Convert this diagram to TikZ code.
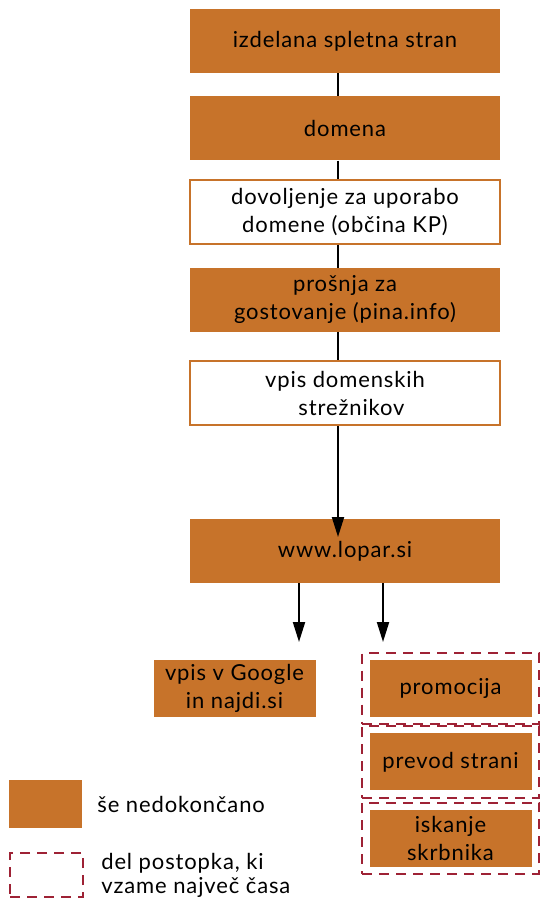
\documentclass[tikz,border=0pt]{standalone}
\usepackage{fontspec}
\setmainfont{Lato}[LetterSpace=4]
\usetikzlibrary{positioning,fit}
\usetikzlibrary{arrows.meta}
\definecolor{rjava}{HTML}{C7732A}
\definecolor{bordo}{HTML}{9E2235}

\begin{document}
\begin{tikzpicture}[
	x=1pt,y=-1pt,
	korak/.style={
		rectangle,
		fill=rjava,
		text=black,
		inner sep=0pt,
		align=center,
		minimum width=310pt,
		minimum height=64pt,
		font=\fontsize{22}{28}\selectfont},
	korakbel/.style={korak,fill=white,draw=rjava,line width=2pt},
	manjsi/.style={korak,minimum width=162pt,minimum height=57pt},
	okvir/.style={
		draw=bordo,
		line width=2.2pt,
		dash pattern=on 10pt off 7pt,
		inner sep=7pt},
	opis/.style={anchor=west,align=left,inner sep=0pt,font=\fontsize{22}{24}\selectfont},
	povezava/.style={line width=2pt},
	puscica/.style={povezava,-{Triangle[width=12pt,length=20pt]}},
	node distance=23pt
	]
	\useasboundingbox (0,0) rectangle (539,899);

	% glavni stolpec
	\node[korak] (spletna) at (345,41) {izdelana spletna stran};
	\node[korak,below=of spletna] (domena) {domena};
	\node[korakbel,below=18pt of domena] (dovoljenje) {dovoljenje za uporabo\\domene (občina KP)};
	\node[korak,below=23pt of dovoljenje] (prosnja) {prošnja za\\gostovanje (pina.info)};
	\node[korakbel,below=28pt of prosnja] (vpis) {vpis domenskih\\\ \ strežnikov};
	\node[korak,below=93pt of vpis] (www) {www.lopar.si};

	% spodnji del
	\node[manjsi] (google) at (234.5,688.5) {vpis v Google\\in najdi.si};
	\node[manjsi] (promocija) at (450.5,688.5) {promocija};
	\node[manjsi,below=16pt of promocija] (prevod) {prevod strani};
	\node[manjsi,below=19pt of prevod] (skrbnik) {iskanje\\skrbnika};
	\node[okvir,fit=(promocija)] (okvir1) {};
	\node[okvir,fit=(prevod)] (okvir2) {};
	\node[okvir,fit=(skrbnik)] (okvir3) {};

	% legenda
	\node[korak,minimum width=73pt,minimum height=48pt] (leg1) at (45.5,804) {};
	\node[opis,right=15pt of leg1] (leg1txt) {še nedokončano};
	\node[okvir,minimum width=73pt,minimum height=44pt,inner sep=0pt] (leg2) at (46.5,875) {};
	\node[opis,right=17pt of leg2] (leg2txt) {del postopka, ki\\vzame največ časa};

	% povezave
	\coordinate (os) at (338,0);
	\coordinate (k1) at (299,642);
	\coordinate (k2) at (383,642);
	\foreach \i/\j in {spletna/domena, domena/dovoljenje, dovoljenje/prosnja, prosnja/vpis}
		\draw[povezava] (\i.south -| os) -- (\j.north -| os);
	\draw[puscica] (vpis.south -| os) -- ([yshift=-18pt]www.north -| os);
	\draw[puscica] (www.south -| k1) -- (k1);
	\draw[puscica] (www.south -| k2) -- (k2);
\end{tikzpicture}
\end{document}
